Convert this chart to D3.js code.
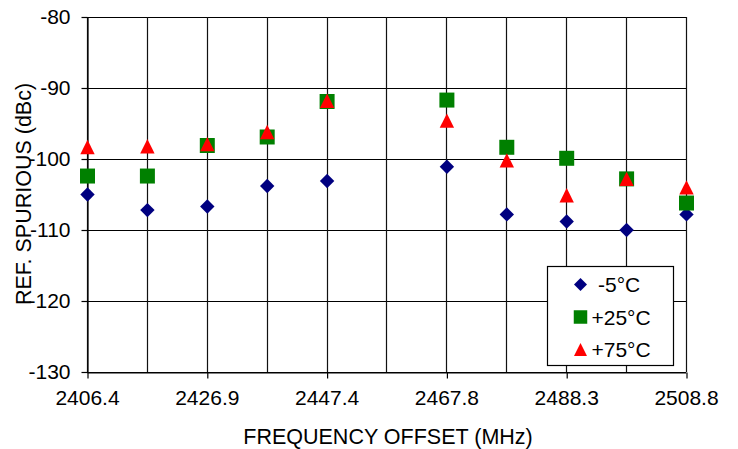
<!DOCTYPE html>
<html><head><meta charset="utf-8">
<script src="https://cdn.jsdelivr.net/npm/d3@7"></script>
<style>
body{margin:0;background:#fff;}
svg{display:block;font-family:"Liberation Sans",Arial,Helvetica,sans-serif;}
</style></head>
<body><svg id="c" width="738" height="449"></svg>
<script>
const freqs = [2406.4, 2416.64, 2426.88, 2437.12, 2447.36, 2467.84, 2478.08, 2488.32, 2498.56, 2508.8];
const sMinus5 = [-105.0, -107.2, -106.7, -103.8, -103.1, -101.1, -107.8, -108.8, -110.0, -107.8];
const sPlus25 = [-102.4, -102.4, -98.1, -96.9, -91.9, -91.7, -98.35, -99.9, -102.8, -106.2];
const sPlus75 = [-98.3, -98.2, -97.9, -96.2, -91.8, -94.6, -100.2, -105.1, -102.8, -104.0];
const seriesNames = ["-5°C", "+25°C", "+75°C"];
const xTickValues = [2406.4, 2426.88, 2447.36, 2467.84, 2488.32, 2508.8];
const xTickLabels = ["2406.4", "2426.9", "2447.4", "2467.8", "2488.3", "2508.8"];
const xGridValues = [2406.4, 2416.64, 2426.88, 2437.12, 2447.36, 2457.6, 2467.84, 2478.08, 2488.32, 2498.56, 2508.8];
const yTickValues = [-80, -90, -100, -110, -120, -130];
const xTitle = "FREQUENCY OFFSET (MHz)";
const yTitle = "REF. SPURIOUS (dBc)";

const svg = d3.select("#c");
const L = 87, R = 686, T = 17, B = 372;
const x = d3.scaleLinear().domain([2406.4, 2508.8]).range([L, R]);
const y = d3.scaleLinear().domain([-130, -80]).range([B, T]);
const FS = 21;

// grid
const g = svg.append("g");
g.selectAll("line.h").data(yTickValues).enter().append("line")
  .attr("x1", L).attr("x2", R).attr("y1", d => y(d) + 0.5).attr("y2", d => y(d) + 0.5)
  .attr("stroke", "#000").attr("stroke-width", 1.2);
g.selectAll("line.v").data(xGridValues).enter().append("line")
  .attr("x1", d => Math.round(x(d)) + 0.5).attr("x2", d => Math.round(x(d)) + 0.5)
  .attr("y1", T).attr("y2", B)
  .attr("stroke", "#111").attr("stroke-width", 1.2);

// axes
const xAxis = d3.axisBottom(x).tickValues(xTickValues).tickFormat((d, i) => xTickLabels[i]).tickSize(6).tickSizeOuter(0).tickPadding(12);
const xa = svg.append("g").attr("transform", `translate(0,${B + 0.5})`).call(xAxis);
xa.select(".domain").attr("stroke", "#000").attr("stroke-width", 1.2);
xa.selectAll(".tick line").attr("stroke", "#000").attr("stroke-width", 1.2)
  .attr("transform", "translate(0.5,0)");
xa.selectAll("text").attr("font-size", FS).attr("fill", "#000").attr("font-family", "Liberation Sans, Arial, sans-serif");

const yAxis = d3.axisLeft(y).tickValues(yTickValues).tickSize(6).tickSizeOuter(0).tickPadding(11).tickFormat(d3.format("d"));
const ya = svg.append("g").attr("transform", `translate(${L + 0.5},0)`).call(yAxis);
ya.select(".domain").attr("stroke", "#000").attr("stroke-width", 1.2);
ya.selectAll(".tick line").attr("stroke", "#000").attr("stroke-width", 1.2);
ya.selectAll("text").attr("font-size", FS).attr("fill", "#000").attr("font-family", "Liberation Sans, Arial, sans-serif")
  .text(d => d3.format("d")(d).replace("−", "-"));

// titles
svg.append("text").attr("x", 388).attr("y", 444).attr("text-anchor", "middle")
  .attr("font-size", 21.5).text(xTitle);
svg.append("text").attr("transform", "translate(31,194) rotate(-90)").attr("text-anchor", "middle")
  .attr("font-size", 21.5).text(yTitle);

// markers
const diamond = s => `M0,${-s}L${s},0L0,${s}L${-s},0Z`;
const square = s => `M${-s},${-s}H${s}V${s}H${-s}Z`;
const tri = s => `M0,${-s}L${s},${s}L${-s},${s}Z`;
const series = [
  {name: seriesNames[0], vals: sMinus5, color: "#000080", shape: diamond, size: 7.2},
  {name: seriesNames[1], vals: sPlus25, color: "#008000", shape: square, size: 7.5},
  {name: seriesNames[2], vals: sPlus75, color: "#ff0000", shape: tri, size: 7.2}
];
series.forEach(s => {
  svg.append("g").selectAll("path").data(s.vals).enter().append("path")
    .attr("transform", (d, i) => `translate(${x(freqs[i]) + 0.5},${y(d)})`)
    .attr("d", s.shape(s.size)).attr("fill", s.color);
});

// legend
const lg = svg.append("g");
lg.append("rect").attr("x", 547.5).attr("y", 266.5).attr("width", 126).attr("height", 99)
  .attr("fill", "#fff").attr("stroke", "#000").attr("stroke-width", 1.2);
const ly = [284.5, 317, 349.5];
series.forEach((s, i) => {
  lg.append("path").attr("transform", `translate(580.5,${ly[i]})`).attr("d", s.shape(s.size * 0.9)).attr("fill", s.color);
  lg.append("text").attr("x", i === 0 ? 598 : 591.5).attr("y", ly[i]).attr("dy", "0.36em")
    .attr("font-size", FS).text(s.name);
});
</script></body></html>
